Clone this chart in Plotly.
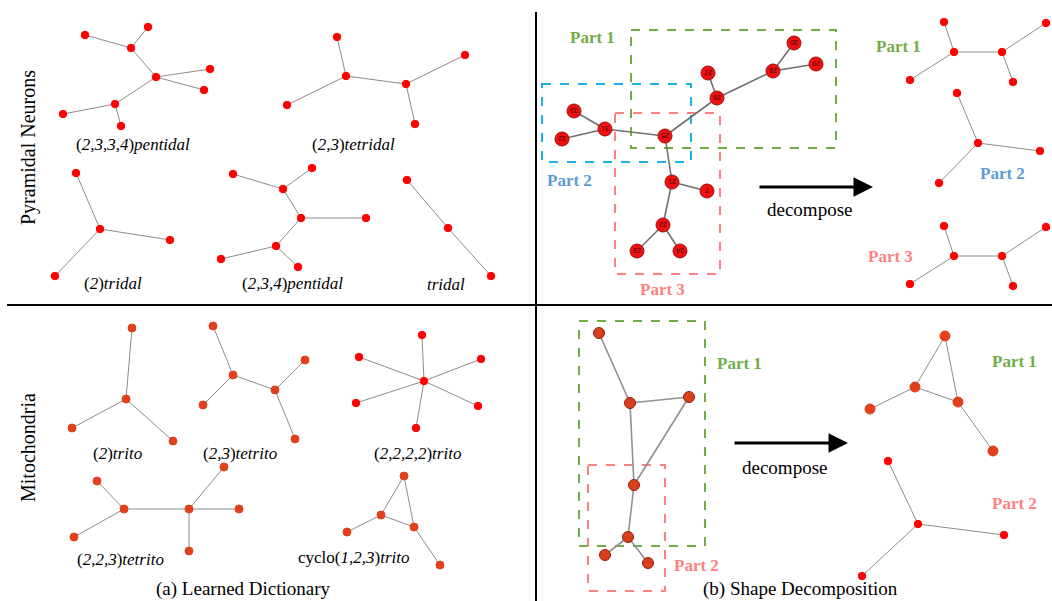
import plotly.graph_objects as go

# ---------------- data (pixel layout of the figure) ----------------
# (a) Learned dictionary - Pyramidal neurons
pent1_x = [148, 85, 131, 156, 210, 204, 115, 63, 121]
pent1_y = [27, 35, 48, 77, 69, 90, 104, 114, 126]
pent1_e = [(1, 2), (0, 2), (2, 3), (3, 4), (3, 5), (3, 6), (6, 7), (6, 8)]

tetr_x = [337, 346, 287, 406, 465, 415]
tetr_y = [37, 76, 105, 84, 55, 124]
tetr_e = [(0, 1), (1, 2), (1, 3), (3, 4), (3, 5)]

trid2_x = [76, 100, 170, 55]
trid2_y = [173, 229, 240, 276]
trid2_e = [(0, 1), (1, 2), (1, 3)]

pent2_x = [233, 312, 283, 301, 366, 276, 221, 298]
pent2_y = [174, 168, 189, 218, 218, 246, 259, 267]
pent2_e = [(0, 2), (1, 2), (2, 3), (3, 4), (3, 5), (5, 6), (5, 7)]

trid_x = [407, 448, 491]
trid_y = [180, 228, 276]
trid_e = [(0, 1), (1, 2)]

# (a) Learned dictionary - Mitochondria
trito_x = [132, 126, 72, 173]
trito_y = [328, 399, 428, 441]
trito_e = [(0, 1), (1, 2), (1, 3)]

tetrito_x = [213, 233, 203, 275, 305, 295]
tetrito_y = [326, 375, 405, 390, 360, 439]
tetrito_e = [(0, 1), (1, 2), (1, 3), (3, 4), (3, 5)]

star_x = [424, 422, 359, 481, 356, 478, 416]
star_y = [381, 335, 357, 359, 403, 406, 428]
star_e = [(0, 1), (0, 2), (0, 3), (0, 4), (0, 5), (0, 6)]

tetrito2_x = [97, 124, 74, 189, 224, 239, 189]
tetrito2_y = [481, 509, 537, 509, 467, 509, 551]
tetrito2_e = [(0, 1), (1, 2), (1, 3), (3, 4), (3, 5), (3, 6)]

cyclo_x = [404, 381, 414, 347, 440]
cyclo_y = [476, 515, 527, 532, 565]
cyclo_e = [(0, 1), (0, 2), (1, 2), (1, 3), (2, 4)]

# (b) Shape decomposition - neuron
big1_x = [794, 816, 773, 708, 717, 574, 605, 562, 665, 672, 707, 663, 637, 680]
big1_y = [43, 64, 71, 73, 98, 111, 129, 139, 136, 182, 191, 225, 251, 251]
big1_lab = ["30", "29", "28", "27", "26", "33", "31", "32", "25", "21", "7", "22", "23", "24"]
big1_e = [(0, 2), (1, 2), (2, 4), (3, 4), (4, 8), (5, 6), (7, 6), (6, 8),
          (8, 9), (9, 10), (9, 11), (11, 12), (11, 13)]

p1_x = [944, 954, 910, 1002, 1046, 1013]
p1_y = [22, 52, 80, 52, 23, 82]
p1_e = [(0, 1), (1, 2), (1, 3), (3, 4), (3, 5)]

p2_x = [957, 978, 1040, 939]
p2_y = [93, 143, 151, 183]
p2_e = [(0, 1), (1, 2), (1, 3)]

p3_x = [944, 954, 910, 1002, 1046, 1013]
p3_y = [226, 256, 284, 256, 227, 286]
p3_e = [(0, 1), (1, 2), (1, 3), (3, 4), (3, 5)]

# (b) Shape decomposition - mitochondria
big2_x = [599, 630, 689, 634, 628, 605, 648]
big2_y = [333, 403, 397, 485, 537, 555, 563]
big2_e = [(0, 1), (1, 2), (1, 3), (2, 3), (3, 4), (4, 5), (4, 6)]

m1_x = [945, 915, 958, 870, 993]
m1_y = [336, 387, 402, 409, 451]
m1_e = [(0, 1), (0, 2), (1, 2), (1, 3), (2, 4)]

m2_x = [888, 918, 1004, 862]
m2_y = [461, 524, 535, 576]
m2_e = [(0, 1), (1, 2), (1, 3)]

# labels
dict_labels = [
    ("(<i>2,3,3,4</i>)<i>pentidal</i>", 133, 144),
    ("(<i>2,3</i>)<i>tetridal</i>", 353, 144),
    ("(<i>2</i>)<i>tridal</i>", 113, 283),
    ("(<i>2,3,4</i>)<i>pentidal</i>", 292, 283),
    ("<i>tridal</i>", 446, 284),
    ("(<i>2</i>)<i>trito</i>", 117, 453),
    ("(<i>2,3</i>)<i>tetrito</i>", 240, 453),
    ("(<i>2,2,2,2</i>)<i>trito</i>", 417, 453),
    ("(<i>2,2,3</i>)<i>tetrito</i>", 120, 559),
    ("cyclo(<i>1,2,3</i>)<i>trito</i>", 353, 557),
]
part_labels = [
    ("Part 1", 592, 37, "#70ad47"), ("Part 2", 569, 180, "#5b9bd5"), ("Part 3", 662, 289, "#ff8080"),
    ("Part 1", 898, 46, "#70ad47"), ("Part 2", 1002, 173, "#5b9bd5"), ("Part 3", 890, 256, "#ff8080"),
    ("Part 1", 739, 363, "#70ad47"), ("Part 2", 696, 565, "#ff8080"),
    ("Part 1", 1014, 361, "#70ad47"), ("Part 2", 1014, 503, "#ff8080"),
]
boxes = [
    (631, 30, 836, 148, "#70ad47"), (542, 84, 691, 162, "#1ab0ea"), (615, 113, 720, 274, "#ff8080"),
    (579, 321, 705, 546, "#70ad47"), (588, 465, 665, 591, "#ff8080"),
]

# ---------------- figure ----------------
fig = go.Figure()
RED = "#ff0000"
ORANGE = "#e0401c"
EDGE = "#8c8c8c"


def add_graph(xs, ys, edges, color, size, outline=None, edge_w=1.0, edge_c=EDGE):
    ex, ey = [], []
    for a, b in edges:
        ex += [xs[a], xs[b], None]
        ey += [ys[a], ys[b], None]
    fig.add_trace(go.Scatter(x=ex, y=ey, mode="lines", hoverinfo="skip",
                             line=dict(color=edge_c, width=edge_w), showlegend=False))
    fig.add_trace(go.Scatter(x=xs, y=ys, mode="markers", hoverinfo="skip", showlegend=False,
                             marker=dict(color=color, size=size,
                                         line=dict(color=outline or color, width=1))))


for gx, gy, ge in [(pent1_x, pent1_y, pent1_e), (tetr_x, tetr_y, tetr_e), (trid2_x, trid2_y, trid2_e),
                   (pent2_x, pent2_y, pent2_e), (trid_x, trid_y, trid_e),
                   (p1_x, p1_y, p1_e), (p2_x, p2_y, p2_e), (p3_x, p3_y, p3_e),
                   (m2_x, m2_y, m2_e), (star_x, star_y, star_e)]:
    add_graph(gx, gy, ge, RED, 7.5)

for gx, gy, ge in [(trito_x, trito_y, trito_e), (tetrito_x, tetrito_y, tetrito_e),
                   (tetrito2_x, tetrito2_y, tetrito2_e), (cyclo_x, cyclo_y, cyclo_e)]:
    add_graph(gx, gy, ge, ORANGE, 8)

add_graph(m1_x, m1_y, m1_e, ORANGE, 10)
add_graph(big1_x, big1_y, big1_e, "#f01010", 14, outline="#a01010", edge_w=1.6, edge_c="#707070")
add_graph(big2_x, big2_y, big2_e, "#d8401c", 11, outline="#902010", edge_w=1.6, edge_c="#909090")

annotations = []
for t, x, y in zip(big1_lab, big1_x, big1_y):
    annotations.append(dict(x=x, y=y, text=t, showarrow=False, textangle=180,
                            font=dict(size=7, color="#3a0000", family="Liberation Sans")))

SERIF = "Liberation Serif"
for t, x, y in dict_labels:
    annotations.append(dict(x=x, y=y, text=t, showarrow=False,
                            font=dict(size=17, color="black", family=SERIF)))
for t, x, y, c in part_labels:
    annotations.append(dict(x=x, y=y, text="<b>" + t + "</b>", showarrow=False,
                            font=dict(size=17, color=c, family=SERIF)))

annotations += [
    dict(x=28, y=148, text="Pyramidal Neurons", textangle=-90, showarrow=False,
         font=dict(size=20, color="black", family=SERIF)),
    dict(x=28, y=448, text="Mitochondria", textangle=-90, showarrow=False,
         font=dict(size=20, color="black", family=SERIF)),
    dict(x=243, y=589, text="(a) Learned Dictionary", showarrow=False,
         font=dict(size=19, color="black", family=SERIF)),
    dict(x=800, y=589, text="(b) Shape Decomposition", showarrow=False,
         font=dict(size=19, color="black", family=SERIF)),
    dict(x=809, y=209, text="decompose", showarrow=False,
         font=dict(size=19, color="black", family=SERIF)),
    dict(x=784, y=467, text="decompose", showarrow=False,
         font=dict(size=19, color="black", family=SERIF)),
    dict(x=873, y=187, ax=758, ay=187, xref="x", yref="y", axref="x", ayref="y", text="",
         showarrow=True, arrowhead=2, arrowsize=1.3, arrowwidth=3, arrowcolor="black"),
    dict(x=848, y=443, ax=733, ay=443, xref="x", yref="y", axref="x", ayref="y", text="",
         showarrow=True, arrowhead=2, arrowsize=1.3, arrowwidth=3, arrowcolor="black"),
]

shapes = [
    dict(type="line", x0=7, x1=1052, y0=305, y1=305, line=dict(color="black", width=2)),
    dict(type="line", x0=536, x1=536, y0=12, y1=601, line=dict(color="black", width=2)),
]
for x0, y0, x1, y1, c in boxes:
    shapes.append(dict(type="rect", x0=x0, y0=y0, x1=x1, y1=y1, layer="below",
                       line=dict(color=c, width=2, dash="dash")))

fig.update_layout(
    width=1052, height=601, margin=dict(l=0, r=0, t=0, b=0),
    paper_bgcolor="white", plot_bgcolor="white",
    xaxis=dict(range=[0, 1052], visible=False, fixedrange=True),
    yaxis=dict(range=[601, 0], visible=False, fixedrange=True),
    annotations=annotations, shapes=shapes, showlegend=False,
)
fig.write_html("out.html", config={"displayModeBar": False},
               post_script="document.body.style.margin='0';document.body.style.overflow='hidden';")
